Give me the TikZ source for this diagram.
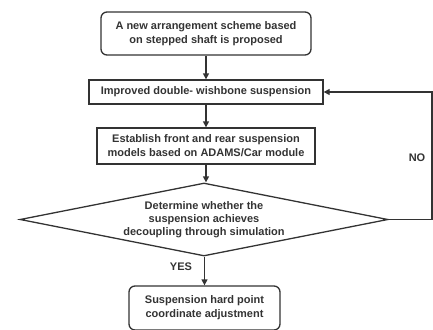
\documentclass[tikz,border=0pt]{standalone}
\usepackage{fontspec}
\setmainfont{Liberation Sans}
\usetikzlibrary{shapes.geometric,arrows.meta}
\definecolor{ln}{HTML}{333333}
\definecolor{tx}{HTML}{333333}
\tikzset{
  box/.style={draw=ln, line width=1.3pt, minimum width=#1, align=center, inner sep=0pt, text=tx, font=\bfseries\fontsize{11}{14}\selectfont},
  rbox/.style={box=#1, rounded corners=6pt},
  arr/.style={draw=ln, line width=1.3pt, -{Triangle[length=6pt,width=6pt]}},
  lbl/.style={text=tx, font=\bfseries\fontsize{11}{13}\selectfont}
}
\begin{document}
\begin{tikzpicture}[x=1pt,y=-1pt]
\useasboundingbox (0,0) rectangle (433,329);
\node[rbox=210pt, minimum height=43pt] (a) at (206,33.5) {A new arrangement scheme based\\on stepped shaft is proposed};
\node[box=234pt, minimum height=24pt] (b) at (206,92) {Improved double- wishbone suspension};
\node[box=218pt, minimum height=36pt] (c) at (206,146) {Establish front and rear suspension\\models based on ADAMS/Car module};
\node[draw=ln, line width=1.3pt, diamond, aspect=5.05, minimum width=368pt, minimum height=73pt, inner sep=0pt, align=center, text=tx, font=\bfseries\fontsize{11}{13}\selectfont] (d) at (204,219.5) {Determine whether the\\suspension achieves\\decoupling through simulation};
\node[rbox=151pt, minimum height=44pt] (e) at (204.5,308) {Suspension hard point\\coordinate adjustment};
\coordinate (r1) at (432,219.5);
\coordinate (r2) at (432,92);
\draw[arr] (a) -- (b);
\draw[arr] (b) -- (c);
\draw[arr] (c.south) -- (c.south |- d.north);
\draw[arr] (d.south -| e.north) -- (e.north);
\draw[arr] (d.east) -- (r1) -- (r2) -- (b.east);
\node[lbl] (yes) at (181,267) {YES};
\node[lbl] (no) at (417,158) {NO};
\end{tikzpicture}
\end{document}
